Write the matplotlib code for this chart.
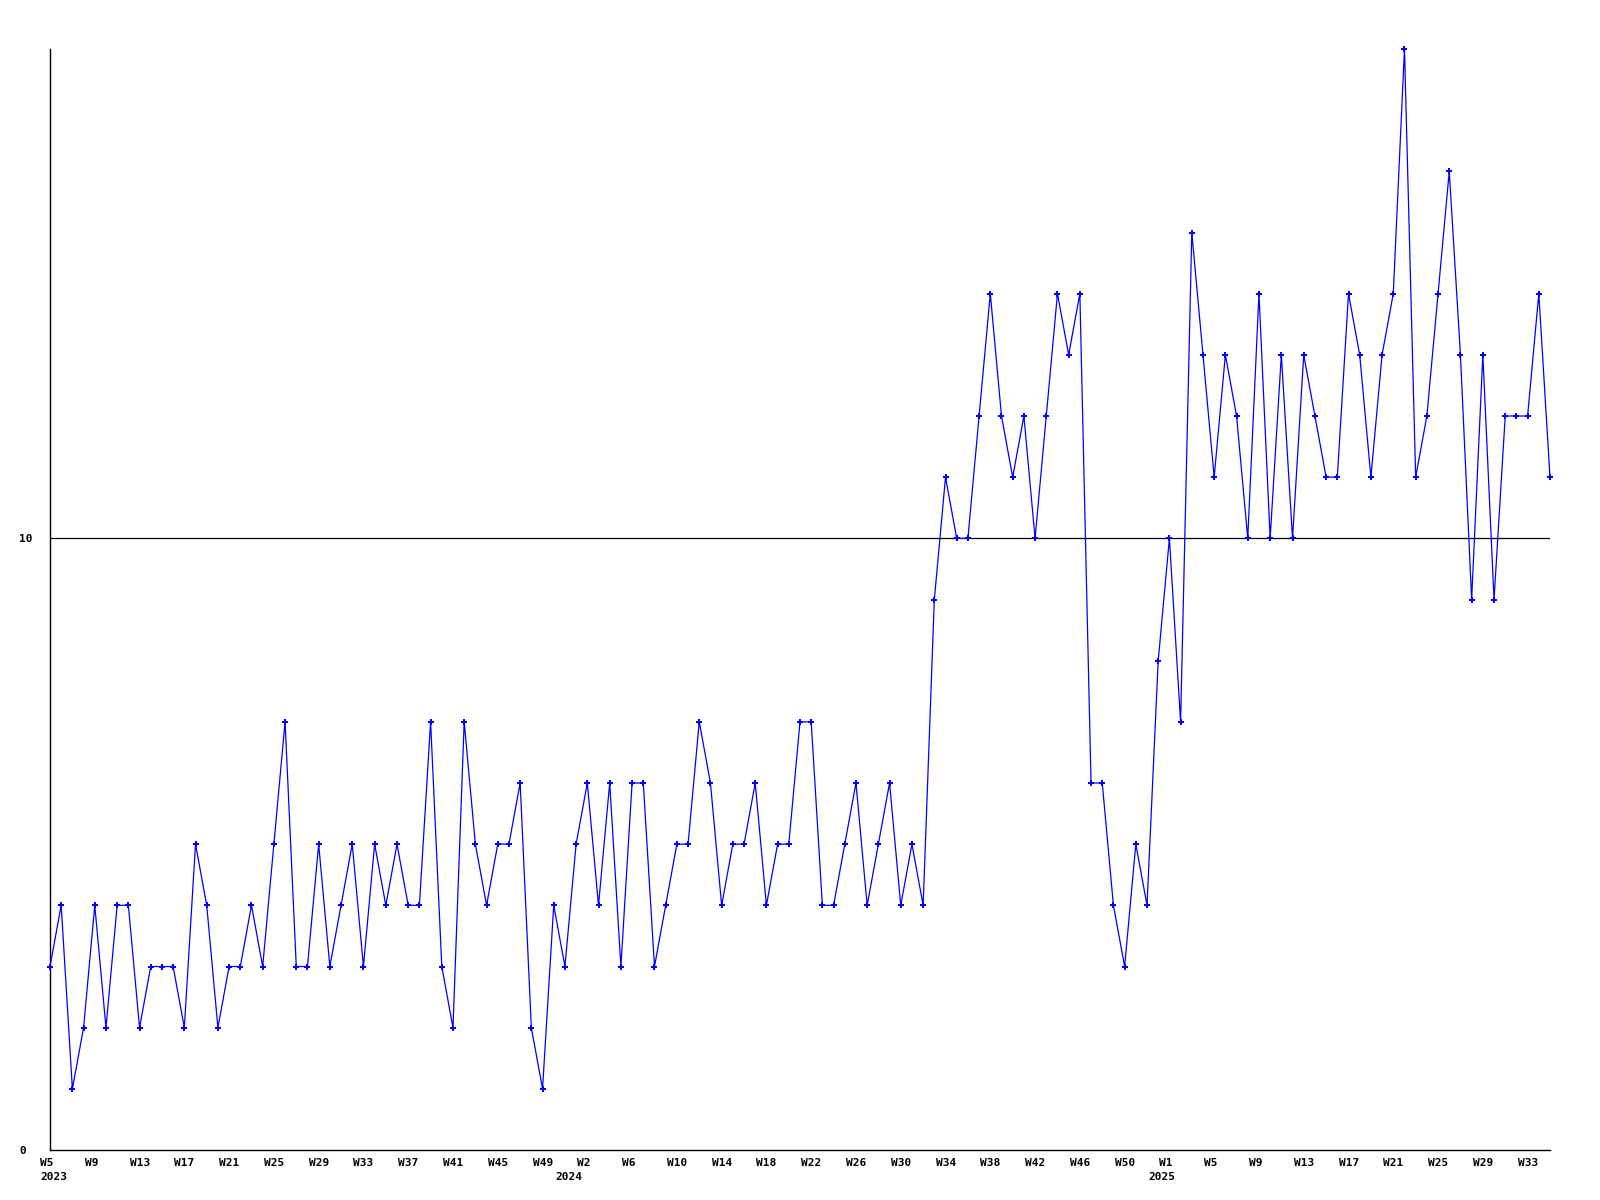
import matplotlib
matplotlib.use("Agg")
import matplotlib.pyplot as plt
import matplotlib.transforms as mtransforms
import numpy as np

# ---- data (weekly counts, 2023 W5 .. 2025 W35) ----
values_2023 = [3, 4, 1, 2, 4, 2, 4, 4, 2, 3, 3, 3, 2, 5, 4, 2, 3, 3, 4, 3, 5, 7,
               3, 3, 5, 3, 4, 5, 3, 5, 4, 5, 4, 4, 7, 3, 2, 7, 5, 4, 5, 5,
               6, 2, 1, 4, 3, 5]
values_2024 = [6, 4, 6, 3, 6, 6, 3, 4, 5, 5, 7, 6, 4, 5,
               5, 6, 4, 5, 5, 7, 7, 4, 4, 5, 6, 4, 5, 6, 4, 5, 4,
               9, 11, 10, 10, 12, 14, 12, 11, 12, 10, 12, 14, 13, 14, 6, 6, 4, 3, 5, 4, 8]
values_2025 = [10, 7, 15,
               13, 11, 13, 12, 10, 14, 10, 13, 10, 13, 12, 11, 11, 14, 13, 11, 13, 14,
               18, 11, 12, 14, 16, 13, 9, 13, 9, 12, 12, 12, 14, 11]
values = values_2023 + values_2024 + values_2025

week_labels = ["W5", "W9", "W13", "W17", "W21", "W25", "W29", "W33", "W37", "W41", "W45", "W49",
               "W2", "W6", "W10", "W14", "W18", "W22", "W26", "W30", "W34", "W38", "W42", "W46", "W50",
               "W1", "W5", "W9", "W13", "W17", "W21", "W25", "W29", "W33"]
year_labels = ["2023", "2024", "2025"]
y_ticks = [0, 10]
ref_level = 10

# ---- figure ----
W, H, DPI = 1600, 1200, 100
fig = plt.figure(figsize=(W / DPI, H / DPI), dpi=DPI)
fig.patch.set_facecolor("white")
ax = fig.add_axes([50 / W, 1 - 1150 / H, 1500 / W, 1101 / H])

font = dict(family="DejaVu Sans Mono", weight="bold", size=8)

x = np.arange(len(values))
ax.plot(x, values, color="#0000ff", lw=0.9, marker="P", ms=4.5, mew=0, zorder=3, clip_on=False)
ax.axhline(ref_level, color="black", lw=0.9, zorder=2)

ax.set_xlim(0, len(values) - 1)
ax.set_ylim(0, 18)
for s in ["top", "right"]:
    ax.spines[s].set_visible(False)
for s in ["left", "bottom"]:
    ax.spines[s].set_linewidth(1.0)
    ax.spines[s].set_color("black")

ax.set_yticks(y_ticks)
ax.set_yticklabels([str(v) for v in y_ticks], fontdict=font, ha="left")
ax.tick_params(axis="both", length=0)
ax.tick_params(axis="y", pad=22)

tick_idx = np.arange(0, 4 * len(week_labels), 4)
ax.set_xticks(tick_idx)
ax.set_xticklabels(week_labels, fontdict=font, ha="left", va="center")
ax.tick_params(axis="x", pad=9.4)
offset = mtransforms.ScaledTranslation(-10 / DPI, 0, fig.dpi_scale_trans)
for lbl in ax.get_xticklabels():
    lbl.set_transform(lbl.get_transform() + offset)

# year labels under the week labels
year_pos = [0, 46, 99]
trans = mtransforms.blended_transform_factory(ax.transData, ax.transAxes)
yoff = mtransforms.ScaledTranslation(-10 / DPI, -27.5 / DPI, fig.dpi_scale_trans)
for pos, lab in zip(year_pos, year_labels):
    ax.text(pos, 0, lab, transform=trans + yoff, ha="left", va="center", **font)

fig.savefig("out.png", dpi=DPI, facecolor="white")
